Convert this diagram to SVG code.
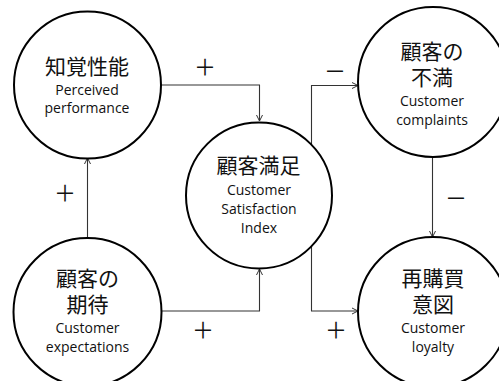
<svg xmlns="http://www.w3.org/2000/svg" width="499" height="381" viewBox="0 0 499 381">
  <style>
    .node circle { fill: #ffffff; stroke: #000000; stroke-width: 2; }
    .jp { font-family: "Noto Sans CJK JP", "Noto Sans", sans-serif; font-size: 21px; fill: #111111; text-anchor: middle; }
    .en { font-family: "Open Sans", "Liberation Sans", sans-serif; font-size: 14px; fill: #111111; text-anchor: middle; }
    .edge { fill: none; stroke: #333333; stroke-width: 1.1; }
    .sign { font-family: "Noto Sans CJK JP", "Noto Sans", sans-serif; font-size: 22px; fill: #111111; text-anchor: middle; }
  </style>
  <defs>
    <marker id="arrow" viewBox="0 0 8 8" refX="7" refY="4" markerWidth="8" markerHeight="8" markerUnits="userSpaceOnUse" orient="auto">
      <path d="M1,1 L7,4 L1,7" fill="none" stroke="#333333" stroke-width="1"/>
    </marker>
  </defs>

  <rect width="499" height="381" fill="#ffffff"/>

  <!-- connectors -->
  <g id="connectors">
    <path class="edge" d="M161,85 H259.5 V121" marker-end="url(#arrow)"/>
    <path class="edge" d="M87.5,238 V158" marker-end="url(#arrow)"/>
    <path class="edge" d="M161,311 H259.5 V269" marker-end="url(#arrow)"/>
    <path class="edge" d="M311.5,145 V85.5 H358" marker-end="url(#arrow)"/>
    <path class="edge" d="M311.5,246 V311 H358" marker-end="url(#arrow)"/>
    <path class="edge" d="M432.5,157 V237" marker-end="url(#arrow)"/>
    <text class="sign" x="205" y="75">＋</text>
    <text class="sign" x="65" y="201">＋</text>
    <text class="sign" x="203" y="338">＋</text>
    <text class="sign" x="336" y="338">＋</text>
    <text class="sign" x="335" y="79">－</text>
    <text class="sign" x="456" y="206">－</text>
  </g>

  <!-- 知覚性能 -->
  <g id="perceived" class="node">
    <circle cx="87.5" cy="85" r="73.5"/>
    <text class="jp" x="87" y="74">知覚性能</text>
    <text class="en" x="87" y="95">Perceived</text>
    <text class="en" x="87" y="113">performance</text>
  </g>

  <!-- 顧客の期待 -->
  <g id="expectations" class="node">
    <circle cx="87.5" cy="312" r="74"/>
    <text class="jp" x="87.5" y="286">顧客の<tspan x="87.5" dy="26">期待</tspan></text>
    <text class="en" x="87.5" y="333">Customer</text>
    <text class="en" x="87.5" y="352">expectations</text>
  </g>

  <!-- 顧客満足 -->
  <g id="satisfaction" class="node">
    <circle cx="259" cy="195.5" r="73"/>
    <text class="jp" x="258.5" y="173">顧客満足</text>
    <text class="en" x="259" y="195">Customer</text>
    <text class="en" x="259" y="214">Satisfaction</text>
    <text class="en" x="259" y="233">Index</text>
  </g>

  <!-- 顧客の不満 -->
  <g id="complaints" class="node">
    <circle cx="433" cy="82" r="75"/>
    <text class="jp" x="432" y="59">顧客の<tspan x="432" dy="26">不満</tspan></text>
    <text class="en" x="432" y="106">Customer</text>
    <text class="en" x="432" y="125">complaints</text>
  </g>

  <!-- 再購買意図 -->
  <g id="loyalty" class="node">
    <circle cx="433" cy="312" r="75"/>
    <text class="jp" x="433" y="286">再購買<tspan x="433" dy="26">意図</tspan></text>
    <text class="en" x="433" y="333">Customer</text>
    <text class="en" x="433" y="352">loyalty</text>
  </g>
</svg>
